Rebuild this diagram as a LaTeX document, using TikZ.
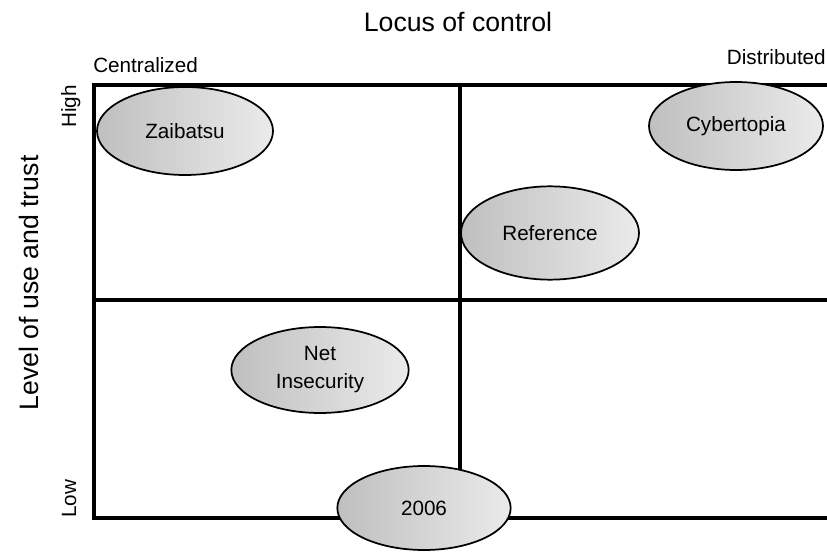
\documentclass[tikz,border=0pt]{standalone}
\usepackage{fontspec}
\setmainfont{Liberation Sans}
\usetikzlibrary{shapes.geometric}

\tikzset{
  frame/.style={line width=2.3pt, line cap=rect},
  blob/.style={ellipse, draw, line width=1.3pt, inner sep=0pt,
    left color=gray!50, right color=gray!16, shading angle=90,
    font=\fontsize{15.5}{20}\selectfont, align=center},
  axislabel/.style={font=\fontsize{20}{24}\selectfont, inner sep=0pt},
  endlabel/.style={font=\fontsize{15.5}{19}\selectfont, inner sep=0pt}
}

\begin{document}
\begin{tikzpicture}[x=0.75pt, y=-0.75pt]
  \useasboundingbox (0,0) rectangle (827,552);

  % grid corners
  \coordinate (tl) at (94,85);
  \coordinate (tm) at (460,85);
  \coordinate (tr) at (827,85);
  \coordinate (ml) at (94,300);
  \coordinate (mr) at (827,300);
  \coordinate (bl) at (94,518);
  \coordinate (bm) at (460,518);
  \coordinate (br) at (827,518);

  % quadrant frame
  \draw[frame] (tr) -- (tl) -- (bl) -- (br);
  \draw[frame] (ml) -- (mr);
  \draw[frame] (tm) -- (bm);

  % axis titles
  \node[axislabel, anchor=base] (locus) at (458,32) {Locus of control};
  \node[axislabel, rotate=90, anchor=base] (level) at (38,283) {Level of use and trust};

  % axis end labels
  \node[endlabel, anchor=base west] (central) at (93,73) {Centralized};
  \node[endlabel, anchor=base east] (distrib) at (826,65) {Distributed};
  \node[endlabel, rotate=90, anchor=base east] (high) at (76,85) {High};
  \node[endlabel, rotate=90, anchor=base west] (low) at (76,518) {Low};

  % scenarios
  \node[blob, minimum width=132pt, minimum height=66pt] (zaibatsu) at (185,131) {Zaibatsu};
  \node[blob, minimum width=130.5pt, minimum height=66pt] (cyber) at (736,126) {Cybertopia};
  \node[blob, minimum width=133.5pt, minimum height=70pt] (reference) at (550,233) {Reference};
  \node[blob, minimum width=133pt, minimum height=64.5pt] (netinsec) at (320,370) {Net\\[1pt]Insecurity};
  \node[blob, minimum width=130pt, minimum height=63pt] (y2006) at (424,508) {2006};
\end{tikzpicture}
\end{document}
